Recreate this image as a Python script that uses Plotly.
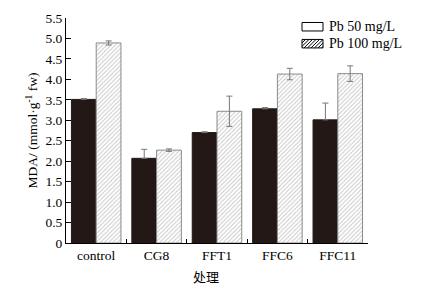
import plotly.graph_objects as go

categories = ["control", "CG8", "FFT1", "FFC6", "FFC11"]
pb50 = [3.51, 2.07, 2.70, 3.28, 3.01]
pb50_err = [0.02, 0.22, 0.02, 0.03, 0.41]
pb100 = [4.89, 2.27, 3.22, 4.13, 4.14]
pb100_err = [0.05, 0.03, 0.37, 0.14, 0.19]
series_names = ["Pb 50 mg/L", "Pb 100 mg/L"]
ytick_vals = [0, 0.5, 1.0, 1.5, 2.0, 2.5, 3.0, 3.5, 4.0, 4.5, 5.0, 5.5]
ytick_text = ["0", "0.5", "1.0", "1.5", "2.0", "2.5", "3.0", "3.5", "4.0", "4.5", "5.0", "5.5"]
x_title = "处理"

FONT = "Liberation Serif, Times New Roman, serif"

fig = go.Figure()
fig.add_trace(go.Bar(
    x=categories, y=pb50, name=series_names[0], showlegend=False,
    marker=dict(color="#231815", line=dict(color="#231815", width=1)),
    error_y=dict(type="data", symmetric=False, array=pb50_err, arrayminus=[0] * len(pb50_err),
                 color="#777777", thickness=1, width=3),
))
fig.add_trace(go.Bar(
    x=categories, y=pb100, name=series_names[1], showlegend=False,
    marker=dict(color="white", line=dict(color="#8a8a8a", width=1),
                pattern=dict(shape="/", fgcolor="#8c8c8c", bgcolor="white", size=3, solidity=0.3)),
    error_y=dict(type="data", array=pb100_err, color="#777777", thickness=1, width=3),
))

# the page body has an 8px default margin; compensate so the plot lands where the reference has it
OFF = 8
PX0, PX1, PY0, PY1 = 66, 368, 18, 243.5   # target plot area on the page
FW, FH = 421 - OFF, 287 - OFF
L = PX0 - OFF
T = PY0 - OFF
R = FW - (PX1 - OFF)
B = FH - (PY1 - OFF)
W, H = PX1 - PX0, PY1 - PY0

def px(x):
    return (x - PX0) / W

def py(y):
    return (PY1 - y) / H

shapes = []
shapes.append(dict(type="rect", xref="paper", yref="paper",
                   x0=px(302), x1=px(323), y0=py(31), y1=py(22.5),
                   line=dict(color="black", width=1), fillcolor="white"))
bx0, bx1, by0, by1 = 302, 323, 39.5, 48
path = ""
step = 3.5
k = bx0 - (by1 - by0)
while k < bx1:
    xa, ya = k, by1
    xb, yb = k + (by1 - by0), by0
    if xa < bx0:
        ya = by1 - (bx0 - xa)
        xa = bx0
    if xb > bx1:
        yb = by0 + (xb - bx1)
        xb = bx1
    if xb > xa:
        path += f"M{px(xa)},{py(ya)} L{px(xb)},{py(yb)} "
    k += step
shapes.append(dict(type="path", xref="paper", yref="paper", path=path,
                   line=dict(color="black", width=1)))
shapes.append(dict(type="rect", xref="paper", yref="paper",
                   x0=px(bx0), x1=px(bx1), y0=py(by1), y1=py(by0),
                   line=dict(color="black", width=1)))

annotations = [
    dict(xref="paper", yref="paper", x=px(327), y=py(26.5), text=series_names[0],
         showarrow=False, xanchor="left", yanchor="middle", font=dict(family=FONT, size=14, color="black")),
    dict(xref="paper", yref="paper", x=px(327), y=py(44), text=series_names[1],
         showarrow=False, xanchor="left", yanchor="middle", font=dict(family=FONT, size=14, color="black")),
    dict(xref="paper", yref="paper", x=px(205.5), y=py(277), text=x_title,
         showarrow=False, xanchor="center", yanchor="middle",
         font=dict(family="Noto Sans CJK SC", size=13, color="black")),
]

fig.update_layout(
    width=FW, height=FH,
    margin=dict(l=L, r=R, t=T, b=B, pad=0),
    paper_bgcolor="white", plot_bgcolor="white",
    barmode="group", bargap=0.18, bargroupgap=0.0,
    font=dict(family=FONT, size=13.5, color="black"),
    shapes=shapes, annotations=annotations,
    showlegend=False,
)
fig.update_xaxes(
    type="category", range=[-0.5, 4.5], automargin=False,
    showline=True, linecolor="black", linewidth=1,
    ticks="inside", tickson="boundaries", ticklen=4, tickcolor="black",
    showgrid=False, zeroline=False,
    tickfont=dict(family=FONT, size=13.5),
)
fig.update_yaxes(
    range=[0, 5.5], tickvals=ytick_vals, ticktext=ytick_text, automargin=False,
    showline=True, linecolor="black", linewidth=1,
    ticks="inside", ticklen=5, tickcolor="black",
    showgrid=False, zeroline=False,
    title=dict(text="MDA/ (mmol·g<sup>-1</sup> fw)", font=dict(family=FONT, size=13.5), standoff=4),
    tickfont=dict(family=FONT, size=13.5),
)

fig.write_html("out.html")
